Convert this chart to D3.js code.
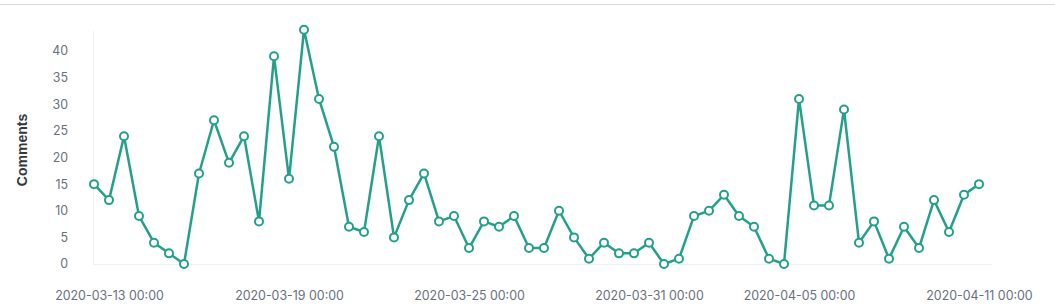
<!DOCTYPE html>
<html>
<head>
<meta charset="utf-8">
<script src="https://cdn.jsdelivr.net/npm/d3@7"></script>
<style>
  body { margin: 0; background: #fff; }
  svg { display: block; }
  .tick text { font-family: Inter, "Noto Sans", sans-serif; font-size: 12.4px; fill: #69707d; }
</style>
</head>
<body>
<svg id="chart" width="1055" height="307"></svg>
<script>
// half-day buckets, first one 2020-03-12 12:00
var startTime = "2020-03-12 12:00"
var comments = [15, 12, 24, 9, 4, 2, 0, 17, 27, 19, 24, 8, 39, 16, 44, 31, 22, 7, 6, 24,
                5, 12, 17, 8, 9, 3, 8, 7, 9, 3, 3, 10, 5, 1, 4, 2, 2, 4, 0, 1,
                9, 10, 13, 9, 7, 1, 0, 31, 11, 11, 29, 4, 8, 1, 7, 3, 12, 6, 13, 15]
var xTickLabels = ["2020-03-13 00:00", "2020-03-19 00:00", "2020-03-25 00:00",
                   "2020-03-31 00:00", "2020-04-05 00:00", "2020-04-11 00:00"]
var yTicks = [0, 5, 10, 15, 20, 25, 30, 35, 40]

var parse = d3.timeParse("%Y-%m-%d %H:%M")
var fmt = d3.timeFormat("%Y-%m-%d %H:%M")
var t0 = parse(startTime)
var data = comments.map((v, i) => ({date: d3.timeHour.offset(t0, i * 12), value: v}))

var svg = d3.select('#chart')
var w = 1055, h = 307
var margin = {top: 31, right: 63, bottom: 43, left: 93}

// top border
svg.append('line').attr('x1', 0).attr('x2', w).attr('y1', 4.5).attr('y2', 4.5)
    .style('stroke', '#d3dae6').style('stroke-width', 1)

var xs = d3.scaleTime().domain(d3.extent(data, d => d.date)).range([94, 979])
var ys = d3.scaleLinear().domain([0, 40]).range([264, 51])

// y axis
var yAxis = svg.append('g').attr('transform', `translate(${margin.left},0)`)
    .call(d3.axisLeft(ys).tickValues(yTicks).tickSize(0).tickPadding(25))
yAxis.select('.domain').remove()
yAxis.append('line').attr('x1', 0.5).attr('x2', 0.5).attr('y1', margin.top).attr('y2', 264)
    .style('stroke', '#eef0f3')

// x axis
var xAxis = svg.append('g').attr('transform', 'translate(0,264)')
    .call(d3.axisBottom(xs).tickValues(xTickLabels.map(parse)).tickFormat(fmt).tickSize(0).tickPadding(27))
xAxis.select('.domain').remove()
xAxis.append('line').attr('x1', margin.left).attr('x2', 992).attr('y1', 0.5).attr('y2', 0.5)
    .style('stroke', '#eef0f3')

svg.append('text')
    .attr('transform', 'translate(27,150) rotate(-90)')
    .attr('text-anchor', 'middle')
    .style('font-family', '"Liberation Sans", Arial, sans-serif')
    .style('font-weight', 'bold').style('font-size', '14px').style('fill', '#343741')
    .text('Comments')

var lineFn = d3.line().x(d => xs(d.date)).y(d => ys(d.value))

svg.append('path').datum(data).attr('d', lineFn)
    .style('fill', 'none').style('stroke', '#24a08a').style('stroke-width', 2.5)
    .style('stroke-linejoin', 'round')

svg.selectAll('.pt').data(data).enter().append('circle')
    .attr('class', 'pt')
    .attr('cx', d => xs(d.date)).attr('cy', d => ys(d.value)).attr('r', 4)
    .style('fill', '#fff').style('stroke', '#24a08a').style('stroke-width', 2)
</script>
</body>
</html>
